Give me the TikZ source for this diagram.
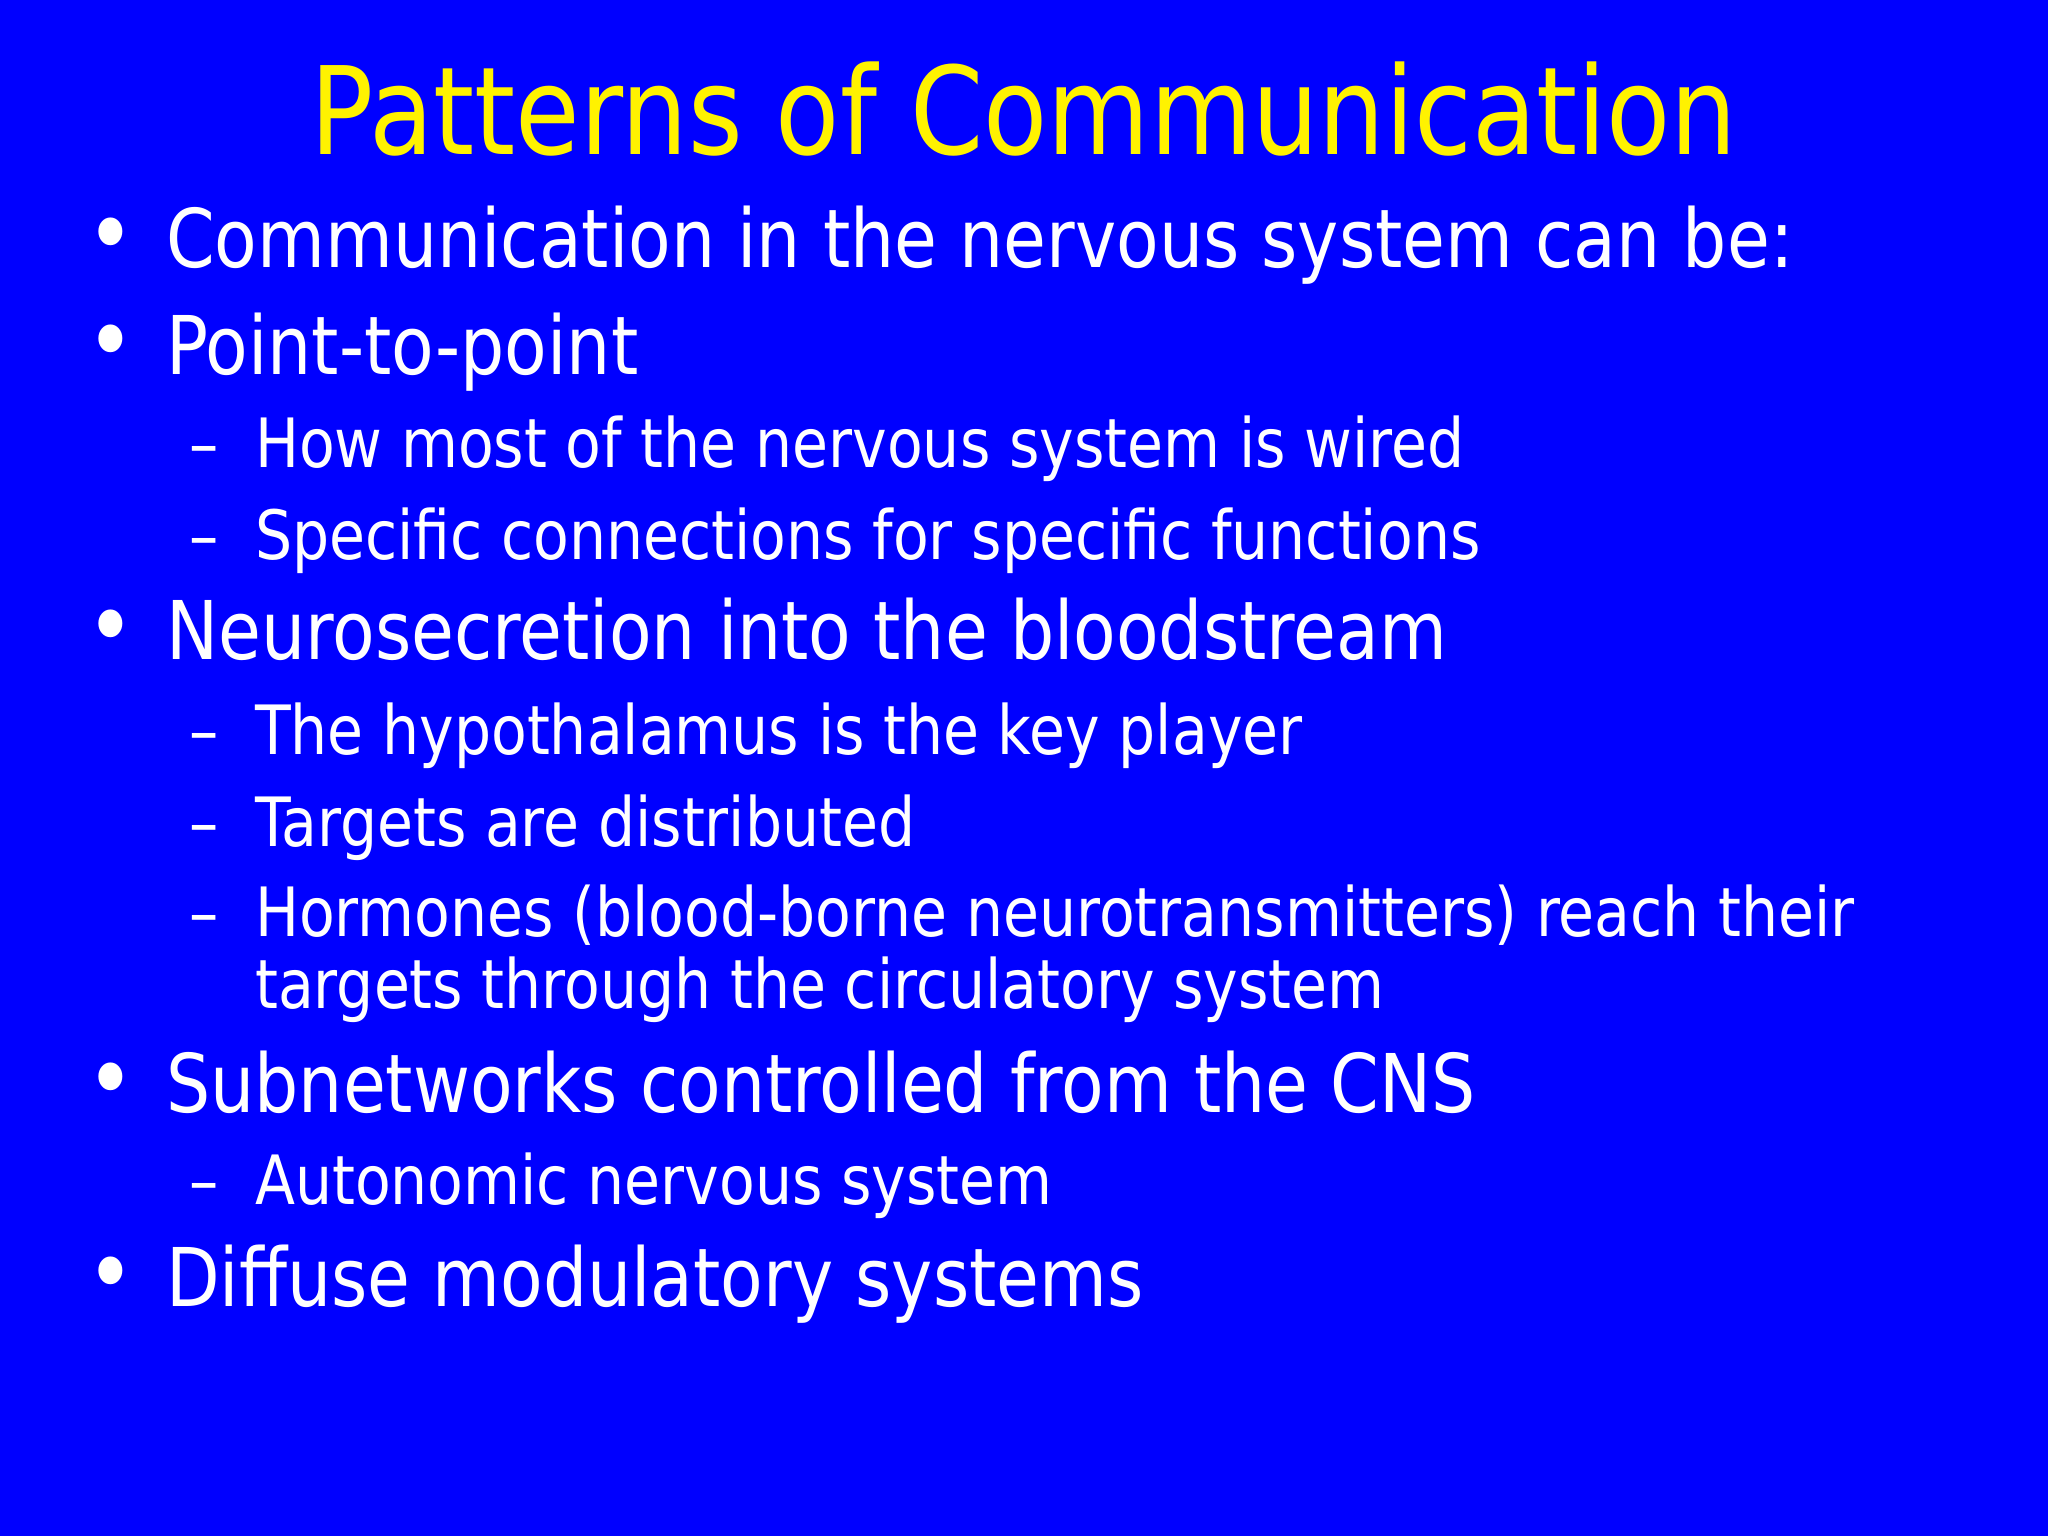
\documentclass[tikz,border=0pt]{standalone}
\usepackage{fontspec}
\setmainfont[FakeStretch=0.86]{DejaVu Sans}
\begin{document}
\begin{tikzpicture}[x=0.6531pt,y=-0.6531pt,
  l1/.style={anchor=base west,inner sep=0,text=white,font=\fontsize{40.5}{48}\selectfont},
  l2/.style={anchor=base west,inner sep=0,text=white,font=\fontsize{34}{41}\selectfont},
  mk/.style={anchor=base west,inner sep=0,text=white}]
\fill[blue] (0,0) rectangle (1568,1176);
\useasboundingbox (0,0) rectangle (1568,1176);
\node[anchor=base,inner sep=0,text=yellow,font=\fontsize{61}{72}\selectfont] (title) at (784,118) {Patterns of Communication};
\foreach \y/\t [count=\i] in {205/Communication in the nervous system can be:,287/Point-to-point,505/Neurosecretion into the bloodstream,852/Subnetworks controlled from the CNS,1000/Diffuse modulatory systems}{
  \node[mk,font=\fontsize{48}{48}\selectfont] (b\i) at (66,\y) {•};
  \node[l1] (t\i) at (127,\y) {\t};
}
\foreach \y/\t [count=\i] in {358/How most of the nervous system is wired,428/Specific connections for specific functions,578/The hypothalamus is the key player,648/Targets are distributed,717/Hormones (blood-borne neurotransmitters) reach their,922/Autonomic nervous system}{
  \node[mk,font=\fontsize{34}{41}\selectfont] (d\i) at (145,\y) {–};
  \node[l2] (s\i) at (195,\y) {\t};
}
\node[l2] (cont) at (195,772) {targets through the circulatory system};
\end{tikzpicture}
\end{document}
